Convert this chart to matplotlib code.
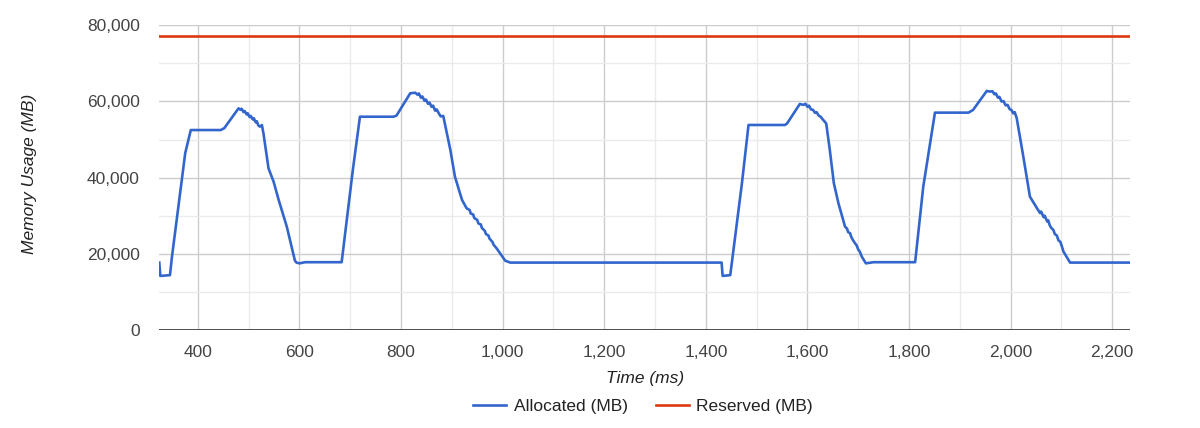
import matplotlib
matplotlib.use("Agg")
import matplotlib.pyplot as plt
from matplotlib.ticker import MultipleLocator, FuncFormatter

# ---- data ----
alloc_time = [
    324, 326, 345, 349, 375, 378, 386, 445, 452, 480,
    484, 486, 490, 492, 496, 498, 502, 504, 508, 510, 514, 516, 519, 522, 526,
    529, 539, 549, 559, 575, 591, 594, 600, 611, 683, 705, 719, 785, 791, 818, 828,
    832, 835, 839, 842, 846, 849, 853, 856, 860, 863, 867, 870, 875, 878, 883,
    897, 906, 920, 929,
    935, 937, 942, 944, 950, 952, 957, 959, 965, 967, 972, 974, 980, 982, 988,
    1005, 1015, 1431, 1433, 1448, 1451, 1471, 1484, 1556, 1560, 1585, 1592,
    1596, 1600, 1603, 1607, 1611, 1615, 1618, 1622, 1626, 1630, 1634, 1637,
    1644, 1652, 1661, 1674,
    1678, 1680, 1684, 1686, 1690, 1694, 1697, 1700, 1703, 1707,
    1715, 1730, 1812, 1828, 1851, 1917, 1926, 1953, 1960,
    1964, 1968, 1971, 1975, 1978, 1982, 1986, 1990, 1994, 1998, 2002, 2005, 2008,
    2012, 2025, 2038, 2054,
    2058, 2060, 2065, 2067, 2072, 2074, 2077, 2080, 2084, 2087, 2091, 2094, 2098, 2101, 2104,
    2117, 2235,
]
alloc_mb = [
    17700, 14200, 14400, 19300, 46400, 48100, 52500, 52500, 53000, 58200,
    57800, 58100, 57200, 57500, 56600, 56900, 55900, 56200, 55300, 55600, 54500, 54800, 53700, 53400, 53800,
    51650, 42460, 38950, 34140, 27130, 18200, 17700, 17500, 17800, 17800, 42000, 56000, 56000, 56300, 62150, 62300,
    61800, 62100, 61000, 61300, 60200, 60500, 59400, 59700, 58600, 58900, 57600, 57900, 56700, 56100, 56200,
    47270, 40260, 34140, 31950,
    31500, 30600, 30300, 29400, 28900, 28000, 27700, 26800, 26000, 25200, 24800, 24000, 23100, 22400, 21450,
    18200, 17700, 17700, 14200, 14400, 17500, 38520, 53830, 53830, 54250, 59350, 59100,
    59400, 58600, 58900, 57900, 57800, 57000, 57200, 56300, 56000, 55300, 54700, 54200,
    47270, 38520, 33270, 27130,
    26600, 25700, 25400, 24500, 23500, 22700, 22200, 21100, 20600, 19250,
    17500, 17800, 17800, 37640, 57070, 57070, 57770, 62760, 62600,
    62700, 61900, 62100, 61000, 61200, 60000, 60100, 59000, 59100, 58000, 57700, 56900, 57200,
    55600, 45510, 35000, 31510,
    30700, 31100, 29600, 30000, 28500, 28800, 27500, 26800, 26300, 25200, 24800, 23600, 23100, 21900, 20600,
    17700, 17700,
]
reserved_time = [324, 2235]
reserved_mb = [77300, 77300]

plt.rcParams['font.family'] = ['Liberation Sans', 'DejaVu Sans']

fig = plt.figure(figsize=(12, 4.28), dpi=100)
ax = fig.add_axes([159.3 / 1200, 1 - 330 / 428, (1130 - 159.3) / 1200, (330 - 25.3) / 428])

ax.plot(alloc_time, alloc_mb, color='#3366cc', lw=1.9, label='Allocated (MB)', zorder=3)
ax.plot(reserved_time, reserved_mb, color='#dc3912', lw=1.9, label='Reserved (MB)', zorder=3)

ax.set_xlim(324, 2235)
ax.set_ylim(0, 80000)

ax.xaxis.set_major_locator(MultipleLocator(200))
ax.xaxis.set_minor_locator(MultipleLocator(100))
ax.yaxis.set_major_locator(MultipleLocator(20000))
ax.yaxis.set_minor_locator(MultipleLocator(10000))
fmt = FuncFormatter(lambda v, p: f"{int(v):,}")
ax.xaxis.set_major_formatter(fmt)
ax.yaxis.set_major_formatter(fmt)

ax.grid(which='major', color='#cccccc', lw=1.0, zorder=0)
ax.grid(which='minor', color='#ebebeb', lw=1.0, zorder=0)
ax.set_axisbelow(True)
for s in ax.spines.values():
    s.set_visible(False)
ax.axhline(0, color='#333333', lw=1.2, zorder=2)

ax.tick_params(which='both', length=0)
ax.tick_params(axis='x', labelsize=12.5, labelcolor='#444444', pad=11)
ax.tick_params(axis='y', labelsize=12.5, labelcolor='#444444', pad=14)

fig.text(644.6 / 1200, 1 - 378 / 428, 'Time (ms)', ha='center', va='center',
         fontsize=12.5, style='italic', color='#222222')
fig.text(30 / 1200, 1 - 174 / 428, 'Memory Usage (MB)', ha='center', va='center',
         fontsize=12.5, style='italic', color='#222222', rotation=90)

fig.legend(loc='center', bbox_to_anchor=(643 / 1200, 1 - 406 / 428), ncol=2, frameon=False,
           fontsize=12.5, handlelength=1.9, handletextpad=0.45, columnspacing=1.6,
           labelcolor='#222222')

fig.savefig('out.png', dpi=100)
